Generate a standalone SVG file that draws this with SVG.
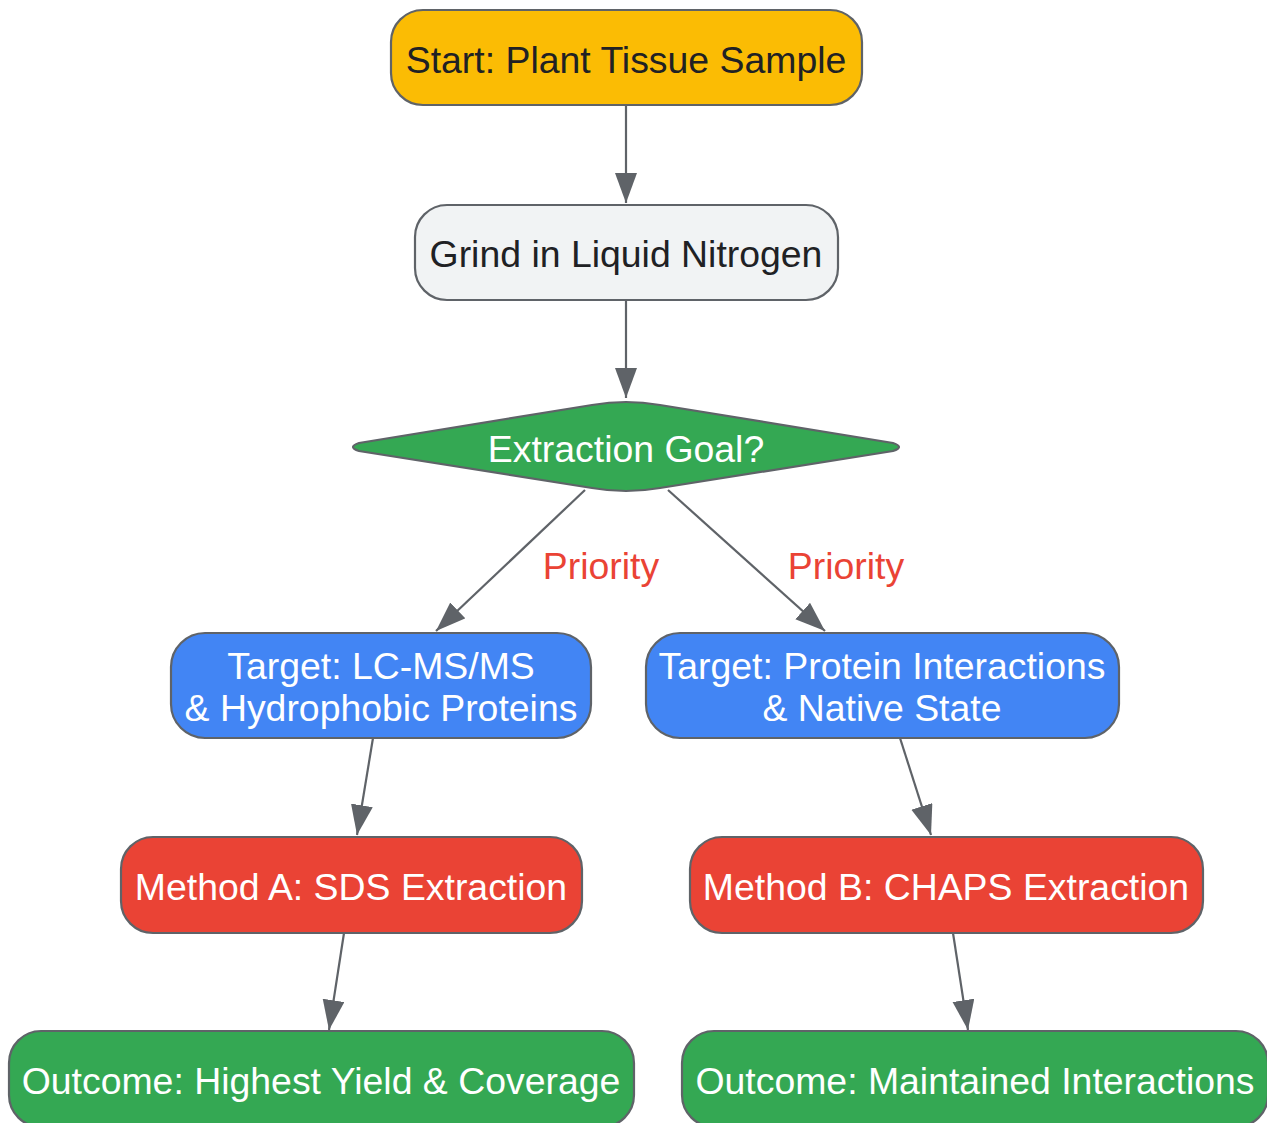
<svg xmlns="http://www.w3.org/2000/svg" width="1267" height="1123" viewBox="0 0 1267 1123">
<style>
.node{stroke:#5f6368;stroke-width:2.2}
.t{font-family:"Liberation Sans",Arial,sans-serif;font-size:37.4px;text-anchor:middle}
.dark{fill:#202124}
.light{fill:#ffffff}
.edge{fill:none;stroke:#5f6368;stroke-width:2.2}
.lbl{font-family:"Liberation Sans",Arial,sans-serif;font-size:37.4px;fill:#EA4335;text-anchor:middle}
</style>
<defs>
<marker id="arr" markerUnits="userSpaceOnUse" markerWidth="32" markerHeight="24" refX="30" refY="11" orient="auto">
<path d="M0,0 L30,11 L0,22 Z" fill="#5f6368"/>
</marker>
</defs>
<rect width="1267" height="1123" fill="#ffffff"/>
<g id="connectors">
<line class="edge" x1="626" y1="105" x2="626" y2="203" marker-end="url(#arr)"/>
<line class="edge" x1="626" y1="300" x2="626" y2="398" marker-end="url(#arr)"/>
<line class="edge" x1="585" y1="490" x2="436" y2="631" marker-end="url(#arr)"/>
<line class="edge" x1="668" y1="490" x2="825" y2="631" marker-end="url(#arr)"/>
<line class="edge" x1="373" y1="738" x2="357" y2="835" marker-end="url(#arr)"/>
<line class="edge" x1="900" y1="738" x2="931" y2="835" marker-end="url(#arr)"/>
<line class="edge" x1="344" y1="933" x2="329" y2="1030" marker-end="url(#arr)"/>
<line class="edge" x1="953" y1="933" x2="968" y2="1030" marker-end="url(#arr)"/>
<text class="lbl" x="601" y="579">Priority</text>
<text class="lbl" x="846" y="579">Priority</text>
</g>
<g id="start">
<rect class="node" x="391" y="10" width="471" height="95" rx="32" fill="#FBBC04"/>
<text class="t dark" x="626" y="73">Start: Plant Tissue Sample</text>
</g>
<g id="grind">
<rect class="node" x="415" y="205" width="423" height="95" rx="32" fill="#F1F3F4"/>
<text class="t dark" x="626" y="267">Grind in Liquid Nitrogen</text>
</g>
<g id="goal">
<path class="node" fill="#34A853" d="M359,443 L592,405 Q626,399 660,405 L893,443 Q905,447 893,451 L660,488 Q626,494 592,488 L359,451 Q347,447 359,443 Z"/>
<text class="t light" x="626" y="462">Extraction Goal?</text>
</g>
<g id="targetA">
<rect class="node" x="171" y="633" width="420" height="105" rx="34" fill="#4285F4"/>
<text class="t light" x="381" y="679">Target: LC-MS/MS</text>
<text class="t light" x="381" y="721">&amp; Hydrophobic Proteins</text>
</g>
<g id="targetB">
<rect class="node" x="646" y="633" width="473" height="105" rx="34" fill="#4285F4"/>
<text class="t light" x="882" y="679">Target: Protein Interactions</text>
<text class="t light" x="882" y="721">&amp; Native State</text>
</g>
<g id="methodA">
<rect class="node" x="121" y="837" width="461" height="96" rx="32" fill="#EA4335"/>
<text class="t light" x="351" y="900">Method A: SDS Extraction</text>
</g>
<g id="methodB">
<rect class="node" x="690" y="837" width="513" height="96" rx="32" fill="#EA4335"/>
<text class="t light" x="946" y="900">Method B: CHAPS Extraction</text>
</g>
<g id="outcomeA">
<rect class="node" x="9" y="1031" width="625" height="96" rx="32" fill="#34A853"/>
<text class="t light" x="321" y="1094">Outcome: Highest Yield &amp; Coverage</text>
</g>
<g id="outcomeB">
<rect class="node" x="682" y="1031" width="586" height="96" rx="32" fill="#34A853"/>
<text class="t light" x="975" y="1094">Outcome: Maintained Interactions</text>
</g>
</svg>
